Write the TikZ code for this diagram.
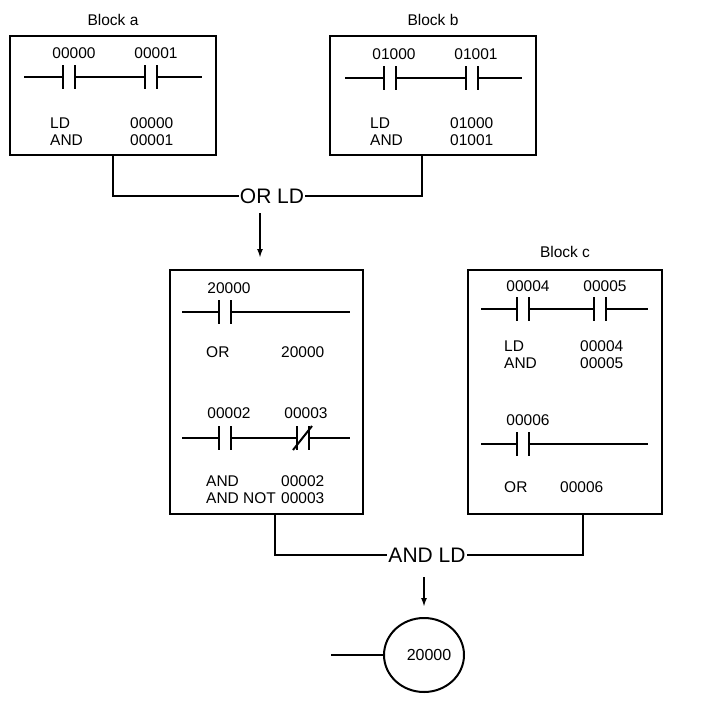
\documentclass[tikz,border=0pt]{standalone}
\usepackage{fontspec}
\setmainfont{Liberation Sans}
\usetikzlibrary{arrows.meta,shapes.geometric}
\begin{document}
\begin{tikzpicture}[x=1pt,y=-1pt,
  box/.style={draw,line width=2pt,inner sep=0pt,rectangle},
  lbl/.style={font=\fontsize{15.5}{17}\selectfont,inner sep=0pt},
  big/.style={font=\fontsize{21}{24}\selectfont,inner sep=1pt},
  wire/.style={line width=2pt},
  pics/contact/.style={code={
    \fill[white] (-5,-3) rectangle (5,3);
    \draw[line width=2.4pt] (-6,-12) -- (-6,12) (6,-12) -- (6,12);}},
  pics/ncontact/.style={code={
    \fill[white] (-5,-3) rectangle (5,3);
    \draw[line width=2.4pt] (-6,-12) -- (-6,12) (6,-12) -- (6,12);
    \draw[line width=2pt] (-10,12) -- (9,-12);}}
]
\useasboundingbox (0,0) rectangle (706,701);
% Block a
\node[lbl] (ta) at (113,20) {Block a};
\node[box,minimum width=206pt,minimum height=119pt] (A) at (113,95.5) {};
\node[lbl] (a1) at (74,53) {00000};
\node[lbl] (a2) at (156,53) {00001};
\draw[wire] (24,77) -- (202,77);
\pic at (69,77) {contact}; \pic at (151,77) {contact};
\node[lbl,anchor=west,align=left] (a3) at (50,132) {LD\\AND};
\node[lbl,anchor=west,align=left] (a4) at (130,132) {00000\\00001};
% Block b
\node[lbl] (tb) at (433,20) {Block b};
\node[box,minimum width=206pt,minimum height=119pt] (B) at (433,95.5) {};
\node[lbl] (b1) at (394,54) {01000};
\node[lbl] (b2) at (476,54) {01001};
\draw[wire] (345,78) -- (522,78);
\pic at (390,78) {contact}; \pic at (472,78) {contact};
\node[lbl,anchor=west,align=left] (b3) at (370,132) {LD\\AND};
\node[lbl,anchor=west,align=left] (b4) at (450,132) {01000\\01001};
% OR LD
\node[big] (orld) at (272,196) {OR LD};
\coordinate (ca) at (113,155); \coordinate (cb) at (422,155);
\draw[wire] (ca) |- (orld.west);
\draw[wire] (cb) |- (orld.east);
% middle block
\node[box,minimum width=193pt,minimum height=244pt,anchor=north west] (M) at (169,269) {};
\coordinate (m0) at (260,213);
\draw[wire,-{Latex[length=9pt,width=6pt]}] (m0) -- (260,258);
\node[lbl] (m1) at (229,288) {20000};
\draw[wire] (182,312) -- (350,312);
\pic at (225,312) {contact};
\node[lbl,anchor=west] (m2) at (206,352) {OR};
\node[lbl,anchor=west] (m3) at (281,352) {20000};
\node[lbl] (m4) at (229,413) {00002};
\node[lbl] (m5) at (306,413) {00003};
\draw[wire] (182,438) -- (350,438);
\pic at (225,438) {contact}; \pic at (303,438) {ncontact};
\node[lbl,anchor=west,align=left] (m6) at (206,490) {AND\\AND NOT};
\node[lbl,anchor=west,align=left] (m7) at (281,490) {00002\\00003};
% Block c
\node[lbl] (tc) at (565,252) {Block c};
\node[box,minimum width=194pt,minimum height=244pt,anchor=north west] (C) at (467,269) {};
\node[lbl] (c1) at (528,286) {00004};
\node[lbl] (c2) at (605,286) {00005};
\draw[wire] (481,309) -- (648,309);
\pic at (523,309) {contact}; \pic at (600,309) {contact};
\node[lbl,anchor=west,align=left] (c3) at (504,355) {LD\\AND};
\node[lbl,anchor=west,align=left] (c4) at (580,355) {00004\\00005};
\node[lbl] (c5) at (528,420) {00006};
\draw[wire] (481,444) -- (648,444);
\pic at (523,444) {contact};
\node[lbl,anchor=west] (c6) at (504,487) {OR};
\node[lbl,anchor=west] (c7) at (560,487) {00006};
% AND LD
\node[big] (andld) at (427,555) {AND LD};
\coordinate (cm) at (275,513); \coordinate (cc) at (583,513);
\draw[wire] (cm) |- (andld.west);
\draw[wire] (cc) |- (andld.east);
\coordinate (o0) at (424,577);
\node[draw,line width=2pt,ellipse,minimum width=80pt,minimum height=74pt,inner sep=0pt,font=\fontsize{16}{18}\selectfont] (coil) at (424,655) {\hspace{10pt}20000};
\draw[wire,-{Latex[length=9pt,width=6pt]}] (o0) -- (424,607);
\coordinate (cl) at (331,655);
\draw[wire] (cl) -- (coil.west);
\end{tikzpicture}
\end{document}
